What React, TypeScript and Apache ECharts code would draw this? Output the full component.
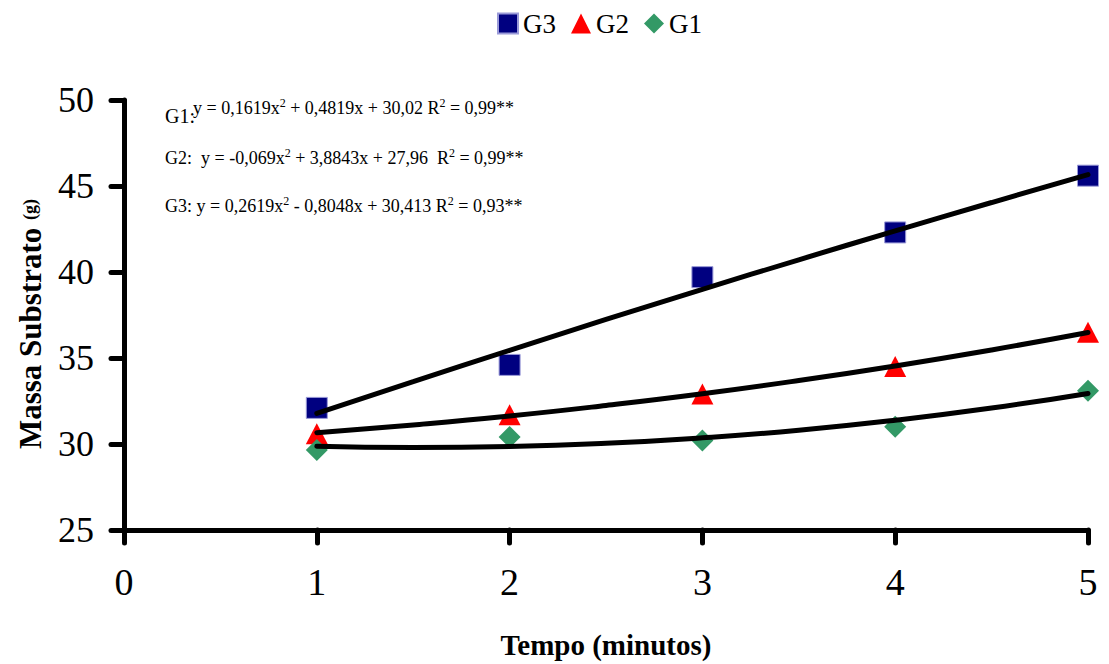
import React, { useEffect, useRef } from "react";
import * as echarts from "echarts";

const FONT = "Liberation Serif";

const xTicks = [0, 1, 2, 3, 4, 5];
const tempo = [1, 2, 3, 4, 5];
const g3 = [32.1, 34.6, 39.7, 42.3, 45.6];
const g2 = [30.6, 31.7, 32.9, 34.5, 36.5];
const g1 = [29.65, 30.4, 30.2, 31.0, 33.1];

// fitted curves
const trendX = [1, 1.5, 2, 2.5, 3, 3.5, 4, 4.5, 5];
const trendTop = [31.78, 33.63, 35.45, 37.24, 38.99, 40.71, 42.39, 44.04, 45.66];
const trendMid = [30.66, 31.11, 31.63, 32.24, 32.92, 33.69, 34.54, 35.47, 36.48];
const trendLow = [29.87, 29.79, 29.85, 30.04, 30.36, 30.8, 31.38, 32.09, 32.94];

const eqG1 = "{n|y = 0,1619x}{s|2}{n| + 0,4819x + 30,02 R}{s|2}{n| = 0,99**}";
const eqG2 = "{n|G2:  y = -0,069x}{s|2}{n| + 3,8843x + 27,96  R}{s|2}{n| = 0,99**}";
const eqG3 = "{n|G3: y = 0,2619x}{s|2}{n| - 0,8048x + 30,413 R}{s|2}{n| = 0,93**}";

const pairs = (xs: number[], ys: number[]) => xs.map((x, i) => [x, ys[i]]);

export default function App() {
  const ref = useRef<HTMLDivElement>(null);
  useEffect(() => {
    if (!ref.current) return;
    const chart = echarts.init(ref.current, null, { renderer: "svg" });
    const rich = {
      n: { fontSize: 18, fontFamily: FONT, color: "#000", lineHeight: 22 },
      s: { fontSize: 12, fontFamily: FONT, color: "#000", lineHeight: 22, verticalAlign: "top" },
    };
    const trendSeries = (data: number[]) => ({
      type: "line",
      data: pairs(trendX, data),
      smooth: true,
      showSymbol: false,
      symbol: "none",
      lineStyle: { color: "#000", width: 5, cap: "round" },
      z: 5,
      silent: true,
    });
    chart.setOption({
      animation: false,
      backgroundColor: "#fff",
      textStyle: { fontFamily: FONT },
      grid: { left: 124, right: 21, top: 100, bottom: 134 },
      legend: {
        data: ["G3", "G2", "G1"],
        left: 497,
        top: 10,
        padding: 0,
        itemWidth: 20,
        itemHeight: 20,
        itemGap: 15,
        textStyle: { fontFamily: FONT, fontSize: 27, color: "#000" },
      },
      xAxis: {
        type: "value",
        min: 0,
        max: 5,
        interval: 1,
        axisLine: { show: true, onZero: false, lineStyle: { color: "#000", width: 5, cap: "round" } },
        axisTick: { show: true, length: 13, lineStyle: { color: "#000", width: 5, cap: "round" } },
        splitLine: { show: false },
        axisLabel: { fontFamily: FONT, fontSize: 38, color: "#000", margin: 33 },
      },
      yAxis: {
        type: "value",
        min: 25,
        max: 50,
        interval: 5,
        axisLine: { show: true, lineStyle: { color: "#000", width: 5, cap: "round" } },
        axisTick: { show: true, length: 13, lineStyle: { color: "#000", width: 5, cap: "round" } },
        splitLine: { show: false },
        axisLabel: { fontFamily: FONT, fontSize: 36, color: "#000", margin: 30 },
      },
      series: [
        {
          name: "G3",
          type: "scatter",
          data: pairs(tempo, g3),
          symbol: "rect",
          symbolSize: 21,
          itemStyle: { color: "#000080", borderColor: "#9a9ad8", borderWidth: 1, opacity: 1 },
          z: 3,
        },
        {
          name: "G2",
          type: "scatter",
          data: pairs(tempo, g2),
          symbol: "triangle",
          symbolSize: [22, 21],
          itemStyle: { color: "#ff0000", opacity: 1 },
          z: 3,
        },
        {
          name: "G1",
          type: "scatter",
          data: pairs(tempo, g1),
          symbol: "diamond",
          symbolSize: 22,
          itemStyle: { color: "#339966", opacity: 1 },
          z: 3,
        },
        trendSeries(trendTop),
        trendSeries(trendMid),
        trendSeries(trendLow),
      ],
      graphic: [
        {
          type: "text",
          left: 165,
          top: 106,
          style: { text: "G1:", fontFamily: FONT, fontSize: 20, fill: "#000" },
          z: 10,
        },
        {
          type: "text",
          left: 193,
          top: 97,
          style: { text: eqG1, rich },
          z: 11,
        },
        {
          type: "text",
          left: 165,
          top: 147,
          style: { text: eqG2, rich },
          z: 11,
        },
        {
          type: "text",
          left: 165,
          top: 195,
          style: { text: eqG3, rich },
          z: 11,
        },
        {
          type: "text",
          x: 30,
          y: 324,
          rotation: Math.PI / 2,
          style: {
            text: "{a|Massa Substrato }{b|(g)}",
            align: "center",
            verticalAlign: "middle",
            rich: {
              a: { fontFamily: FONT, fontSize: 31, fontWeight: "bold", color: "#000" },
              b: { fontFamily: FONT, fontSize: 18, fontWeight: "bold", color: "#000" },
            },
          },
        },
        {
          type: "text",
          x: 606,
          y: 645,
          style: {
            text: "Tempo (minutos)",
            fontFamily: FONT,
            fontSize: 29,
            fontWeight: "bold",
            fill: "#000",
            align: "center",
            verticalAlign: "middle",
          },
        },
      ],
    });
    return () => chart.dispose();
  }, []);
  return (
    <div
      ref={ref}
      style={{ position: "absolute", left: 0, top: 0, width: 1109, height: 664 }}
    />
  );
}
